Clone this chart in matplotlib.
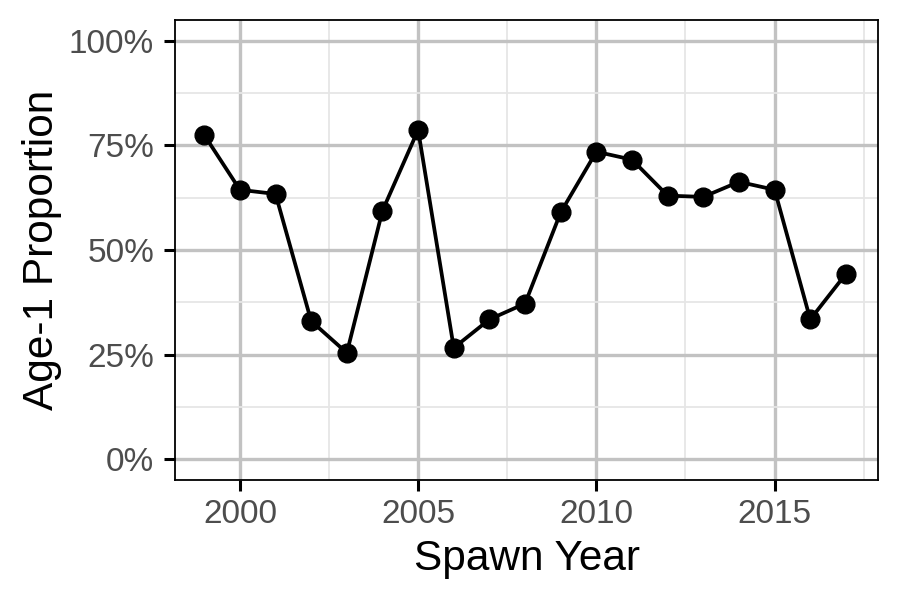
import matplotlib
matplotlib.use("Agg")
import matplotlib.pyplot as plt
from matplotlib.ticker import FixedLocator, FuncFormatter

years = [1999, 2000, 2001, 2002, 2003, 2004, 2005, 2006, 2007, 2008,
         2009, 2010, 2011, 2012, 2013, 2014, 2015, 2016, 2017]
age1_prop = [0.775, 0.644, 0.634, 0.330, 0.254, 0.594, 0.787, 0.266, 0.334, 0.372,
             0.590, 0.735, 0.716, 0.630, 0.627, 0.663, 0.644, 0.334, 0.443]
x_ticks = [2000, 2005, 2010, 2015]
y_ticks = [0, 0.25, 0.5, 0.75, 1.0]

plt.rcParams['font.family'] = ['Liberation Sans', 'DejaVu Sans']

fig = plt.figure(figsize=(9, 6), dpi=100)
ax = fig.add_axes([175/900, 1-480/600, (878-175)/900, (480-20)/600])

ax.set_xlim(1998.18, 2017.9)
ax.set_ylim(-0.05, 1.05)

ax.xaxis.set_major_locator(FixedLocator(x_ticks))
ax.xaxis.set_minor_locator(FixedLocator([1997.5, 2002.5, 2007.5, 2012.5, 2017.5]))
ax.yaxis.set_major_locator(FixedLocator(y_ticks))
ax.yaxis.set_minor_locator(FixedLocator([0.125, 0.375, 0.625, 0.875]))
ax.yaxis.set_major_formatter(FuncFormatter(lambda v, p: f"{int(round(v*100))}%"))

ax.grid(which='major', color='#C2C2C2', linewidth=2.4)
ax.grid(which='minor', color='#E6E6E6', linewidth=1.3)
ax.set_axisbelow(True)

ax.plot(years, age1_prop, color='black', linewidth=2.7, marker='o',
        markersize=13.5, zorder=3, clip_on=False)

ax.tick_params(which='major', length=8, width=2.2, color='black',
               labelsize=24, labelcolor='#4D4D4D')
ax.tick_params(axis='y', which='major', pad=7)
ax.tick_params(axis='x', which='major', pad=6)
ax.tick_params(which='minor', length=0)
for s in ax.spines.values():
    s.set_linewidth(1.3)
    s.set_color('black')

ax.set_xlabel('Spawn Year', fontsize=30.5, labelpad=6)
ax.set_ylabel('Age-1 Proportion', fontsize=30.5, labelpad=5)

fig.savefig('out.png', dpi=100)
